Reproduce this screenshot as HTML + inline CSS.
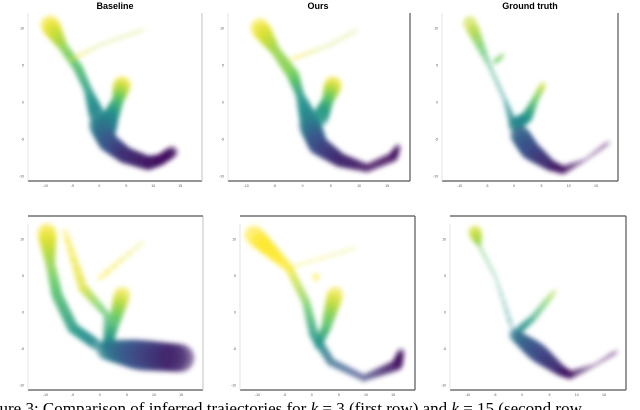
<!DOCTYPE html>
<html><head><meta charset="utf-8">
<style>
html,body{margin:0;padding:0;background:#fff;width:640px;height:410px;overflow:hidden}
svg{display:block}
text{font-family:"Liberation Sans",sans-serif}
</style></head>
<body>
<svg id="fig" width="640" height="410" viewBox="0 0 640 410" xmlns="http://www.w3.org/2000/svg">
<defs><filter id="bl" x="-20%" y="-20%" width="140%" height="140%"><feGaussianBlur stdDeviation="2.4"/></filter></defs>
<text x="115" y="9" font-size="9" font-weight="bold" text-anchor="middle">Baseline</text>
<text x="318" y="9" font-size="9" font-weight="bold" text-anchor="middle">Ours</text>
<text x="530" y="9" font-size="9" font-weight="bold" text-anchor="middle">Ground truth</text>
<text x="-9" y="414" font-size="17" style="font-family:'Liberation Serif',serif">gure 3: Comparison of inferred trajectories for <tspan font-style="italic">k</tspan> = 3 (first row) and <tspan font-style="italic">k</tspan> = 15 (second row</text>
</svg>
<script>
// trajectories: [x, y, t(colour 0=purple..1=yellow), width] in panel data units
const p1a=[[22,156,1,14],[34,136,.85,7],[50,113,.7,7],[60,91,.55,6],[70,63,.45,12]];
const p1b=[[94,96,1,13],[90,81,.75,8],[82,63,.5,12],[77,51,.42,16]];
const p1c=[[72,56,.45,16],[80,39,.3,14],[97,26,.15,12],[120,18,.08,10],[132,21,.05,8],[144,29,.05,8]];
const p1d=[[42,121,1,3],[72,136,.9,2],[115,151,.9,2]];
const p2a=[[32,153,1,14],[47,131,.85,7],[65,106,.8,9],[72,86,.55,6],[82,58,.45,14]];
const p2b=[[105,96,1,13],[100,81,.75,8],[92,63,.5,12]];
const p2c=[[82,56,.45,16],[90,36,.25,14],[112,21,.12,10],[139,13,.05,6],[165,24,.05,7],[170,34,.05,4]];
const p2d=[[62,121,1,3],[102,136,.9,2],[129,151,.9,2]];
const p3a=[[28,158,.95,10],[48,114,.6,3],[63,81,.5,3],[71,58,.45,6]];
const p3b=[[101,96,.95,5],[93,81,.75,5],[85,64,.55,8],[73,56,.45,10]];
const p3c=[[78,46,.35,14],[88,31,.25,14],[108,16,.12,8],[121,11,.05,6],[143,21,.05,2],[166,38,.05,3]];
const p3e=[[53,119,.75,4],[61,126,.8,3]];
const q1a=[[19,157,1,14],[22,128,.85,7],[29,95,.7,8],[45,62,.55,8],[69,45,.45,8]];
const q1b=[[37,158,1,4],[55,102,.95,7],[79,75,.7,5],[79,45,.5,6]];
const q1e=[[94,95,1,12],[85,62,.65,7],[79,42,.45,8]];
const q1c=[[79,40,.45,14],[112,35,.25,22],[152,32,.08,20]];
const q1d=[[72,112,1,4],[115,148,.95,2]];
const q2a=[[14,155,1,14],[49,122,1,6],[66,88,.8,6],[74,55,.55,7],[91,28,.35,6],[124,12,.2,5],[157,25,.05,8],[161,38,.05,5]];
const q2b=[[95,95,1,12],[86,62,.7,7],[78,45,.5,6]];
const q2e=[[76,113,1,5]];
const q2d=[[49,122,1,2],[115,142,.95,2]];
const q3a=[[25,158,.95,10],[29,145,.8,3],[46,112,.6,2],[62,62,.45,3]];
const q3b=[[104,98,.9,4],[83,72,.6,5],[67,58,.45,6]];
const q3c=[[65,55,.4,8],[87,38,.25,14],[110,20,.12,8],[120,15,.05,6],[145,25,.05,2],[166,38,.05,3]];
const xTickLabels=["-10","-5","0","5","10","15"];
const yTickLabels=["10","5","0","-5","-10"];

const panels=[
 {name:'baseline-row1',l:28,t:5,r:202,b:181,top:false,dark:false,series:[p1a,p1b,p1c,p1d]},
 {name:'ours-row1',l:228,t:5,r:410,b:181,top:false,dark:true,series:[p2a,p2b,p2c,p2d]},
 {name:'ground-truth-row1',l:442,t:5,r:618,b:181,top:false,dark:true,series:[p3a,p3b,p3c,p3e]},
 {name:'baseline-row2',l:28,t:216,r:203,b:390,top:true,dark:false,series:[q1a,q1b,q1e,q1c,q1d]},
 {name:'ours-row2',l:240,t:216,r:415,b:390,top:true,dark:true,series:[q2a,q2b,q2e,q2d]},
 {name:'ground-truth-row2',l:450,t:216,r:626,b:390,top:true,dark:true,series:[q3a,q3b,q3c]}
];
const stops=[[68,1,84],[59,82,139],[33,145,140],[94,201,98],[253,231,37]];
function viridis(t){t=Math.max(0,Math.min(1,t));const s=t*(stops.length-1);const i=Math.min(stops.length-2,Math.floor(s));const f=s-i;
 const c=stops[i].map((v,k)=>Math.round(v+(stops[i+1][k]-v)*f));return `rgb(${c[0]},${c[1]},${c[2]})`;}
const NS='http://www.w3.org/2000/svg';
const svg=document.getElementById('fig');
const WS=1.4;
function op(w){return Math.min(0.62,0.18+w*0.035);}
function mk(tag,attrs,parent){const e=document.createElementNS(NS,tag);for(const k in attrs)e.setAttribute(k,attrs[k]);parent.appendChild(e);return e;}
panels.forEach(P=>{
 const g=mk('g',{},svg);
 
 
 const xs=v=>P.l+v, ys=v=>P.b-v;
 const bx=mk('line',{x1:P.l,y1:P.b,x2:P.r,y2:P.b,stroke:'#555','stroke-width':1.2},g);
 
 
 const lx=mk('line',{x1:P.l,y1:P.t+8,x2:P.l,y2:P.b,stroke:'#ddd','stroke-width':0.8},g);
 
 
 const rb=mk('line',{x1:P.r,y1:P.t+(P.top?0:8),x2:P.r,y2:P.b,stroke:P.dark?'#555':'#ccc','stroke-width':1.2},g);
 
 
 if(P.top){const tb=mk('line',{x1:P.l,y1:P.t,x2:P.r,y2:P.t,stroke:'#555','stroke-width':1.2},g);
  
  }
 const w=P.r-P.l,h=P.b-P.t;
 xTickLabels.forEach((s,i)=>{const tx=mk('text',{x:P.l+w*(0.1+0.155*i),y:P.b+6,'font-size':3.5,fill:'#555','text-anchor':'middle'},g);tx.textContent=s;
  
  });
 yTickLabels.forEach((s,i)=>{const ty=mk('text',{x:P.l-4,y:P.t+h*(0.14+0.21*i),'font-size':3.5,fill:'#555','text-anchor':'end'},g);ty.textContent=s;
  
  });
 const sg=mk('g',{filter:'url(#bl)'},g);
 
 
 P.series.forEach(ser=>{
  if(ser.length===1){const p=ser[0];const c=mk('circle',{cx:xs(p[0]),cy:ys(p[1]),r:p[3]*WS/2,fill:viridis(p[2]),opacity:0.6},sg);
   
   return;}
  for(let i=0;i<ser.length-1;i++){const a=ser[i],b=ser[i+1];const n=6;
   for(let k=0;k<n;k++){const f0=k/n,f1=(k+1)/n;const fm=(f0+f1)/2;
    const sw=(a[3]+(b[3]-a[3])*fm)*WS;
    const ln=mk('line',{x1:xs(a[0]+(b[0]-a[0])*f0),y1:ys(a[1]+(b[1]-a[1])*f0),x2:xs(a[0]+(b[0]-a[0])*f1),y2:ys(a[1]+(b[1]-a[1])*f1),
     stroke:viridis(a[2]+(b[2]-a[2])*fm),'stroke-width':sw,'stroke-linecap':'round',opacity:op(sw)},sg);
    
    }
  }
 });
});
</script>
</body></html>
